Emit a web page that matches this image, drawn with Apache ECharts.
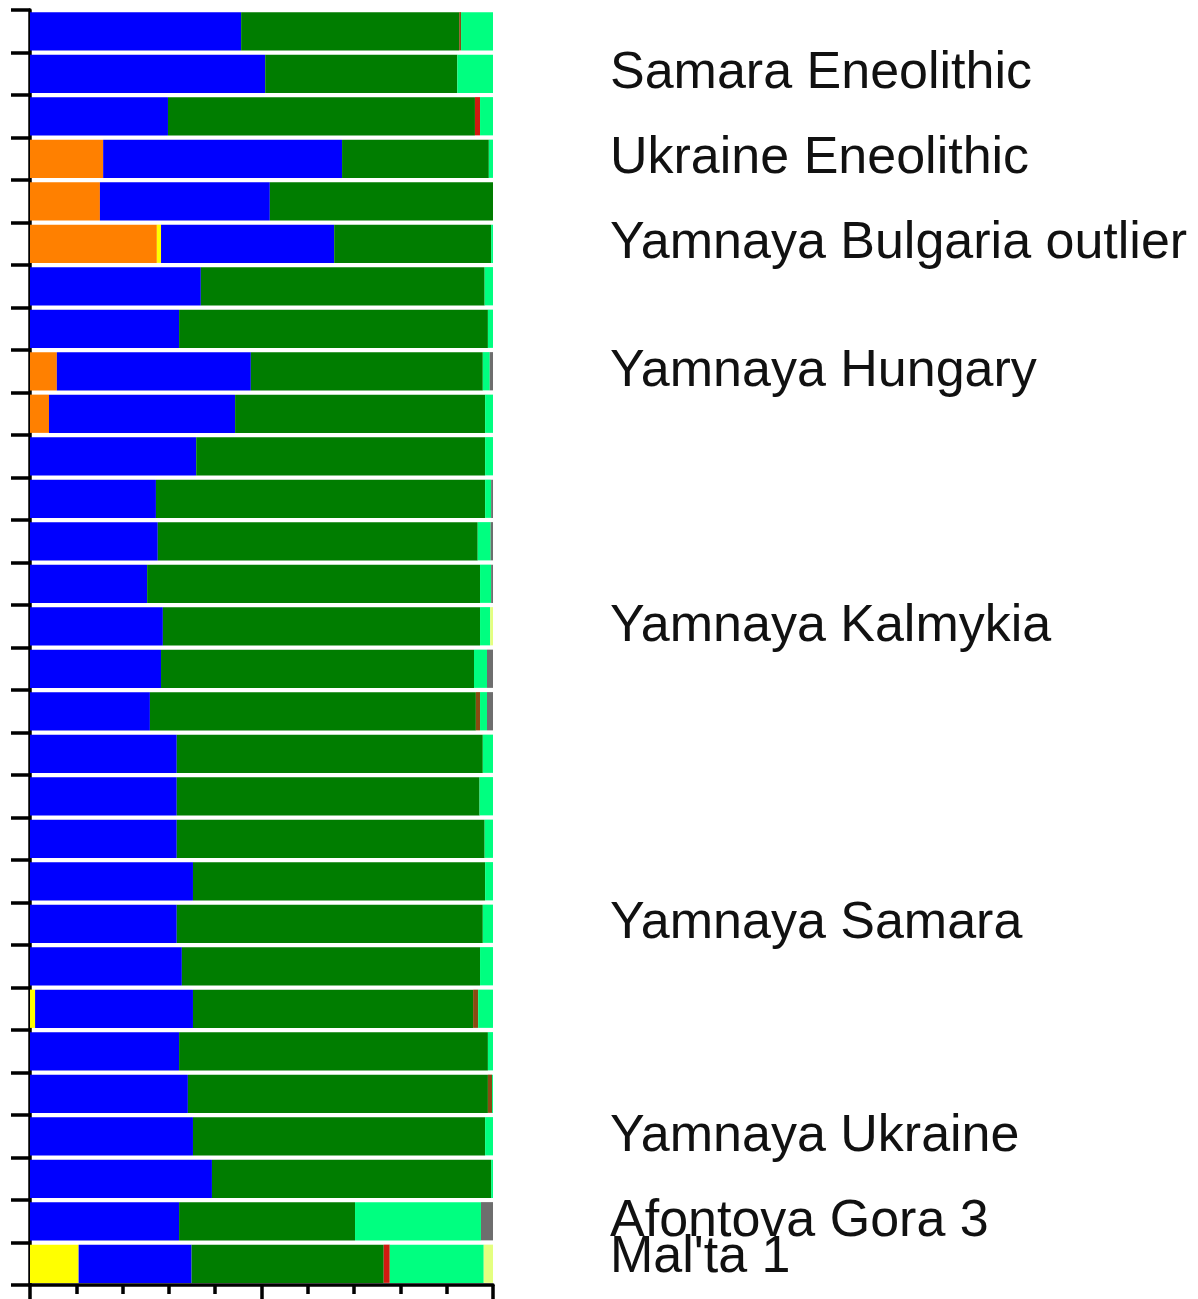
<!DOCTYPE html>
<html>
<head>
<meta charset="utf-8">
<script src="https://cdn.jsdelivr.net/npm/echarts@6/dist/echarts.min.js"></script>
<style>
  html, body { margin: 0; padding: 0; background: #fff; }
  #main { width: 1198px; height: 1299px; }
</style>
</head>
<body>
<div id="main"></div>
<script>
// samples, top to bottom
const samples = ['s1','s2','s3','s4','s5','s6','s7','s8','s9','s10','s11','s12','s13','s14','s15',
  's16','s17','s18','s19','s20','s21','s22','s23','s24','s25','s26','s27','s28','s29','s30'];
// group label shown on the right for some rows
const groupLabels = ['', 'Samara Eneolithic', '', 'Ukraine Eneolithic', '', 'Yamnaya Bulgaria outlier', '', '',
  'Yamnaya Hungary', '', '', '', '', '', 'Yamnaya Kalmykia', '', '', '', '', '', '',
  'Yamnaya Samara', '', '', '', '', 'Yamnaya Ukraine', '', 'Afontova Gora 3', "Mal'ta 1"];

// ancestry proportions per component
const orange = [0,0,0,.158,.151,.274,0,0,.058,.041,0,0,0,0,0,0,0,0,0,0,0,0,0,0,0,0,0,0,0,0];
const yellow = [0,0,0,0,0,.009,0,0,0,0,0,0,0,0,0,0,0,0,0,0,0,0,0,.011,0,0,0,0,0,.105];
const blue = [.456,.508,.298,.516,.367,.374,.369,.322,.419,.402,.359,.272,.276,.253,.287,
  .283,.259,.317,.317,.317,.352,.317,.328,.341,.322,.341,.352,.393,.322,.244];
const green = [.471,.415,.663,.317,.482,.339,.613,.667,.501,.540,.624,.711,.691,.719,.685,
  .676,.704,.661,.654,.665,.631,.661,.644,.605,.667,.648,.631,.603,.380,.415];
const red = [0,0,.011,0,0,0,0,0,0,0,0,0,0,0,0,0,0,0,0,0,0,0,0,0,0,0,0,0,0,.013];
const brown = [.004,0,0,0,0,0,0,0,0,0,0,0,0,0,0,0,.009,0,0,0,0,0,0,.011,0,.009,0,0,0,0];
const lightGreen = [.069,.077,.028,.009,0,.004,.018,.011,.015,.017,.017,.013,.028,.024,.022,
  .028,.015,.022,.029,.018,.017,.022,.028,.032,.011,.002,.017,.004,.272,.203];
const gray = [0,0,0,0,0,0,0,0,.007,0,0,.004,.005,.004,0,.013,.013,0,0,0,0,0,0,0,0,0,0,0,.026,0];
const paleYellow = [0,0,0,0,0,0,0,0,0,0,0,0,0,0,.006,0,0,0,0,0,0,0,0,0,0,0,0,0,0,.020];

const components = [
  { name: 'orange', data: orange, color: '#ff8000' },
  { name: 'yellow', data: yellow, color: '#ffff00' },
  { name: 'blue', data: blue, color: '#0000ff' },
  { name: 'green', data: green, color: '#007d00' },
  { name: 'red', data: red, color: '#d01a10' },
  { name: 'brown', data: brown, color: '#8a4a12' },
  { name: 'lightGreen', data: lightGreen, color: '#00ff80' },
  { name: 'gray', data: gray, color: '#6e6e6e' },
  { name: 'paleYellow', data: paleYellow, color: '#e4ff80' }
];

const chart = echarts.init(document.getElementById('main'));

const series = components.map(function (c) {
  return {
    name: c.name,
    type: 'bar',
    stack: 'all',
    barCategoryGap: '10%',
    data: c.data,
    itemStyle: { color: c.color },
    emphasis: { disabled: true }
  };
});

chart.setOption({
  animation: false,
  grid: { left: 30, right: 705, top: 10, bottom: 14, outerBoundsMode: 'none' },
  xAxis: {
    type: 'value',
    min: 0,
    max: 1,
    interval: 0.5,
    splitLine: { show: false },
    axisLine: { show: true, lineStyle: { color: '#000', width: 3.5 } },
    axisTick: { show: true, length: 16, lineStyle: { color: '#000', width: 3.5 } },
    minorTick: { show: true, splitNumber: 5, length: 9, lineStyle: { color: '#000', width: 3.5 } },
    axisLabel: { show: false }
  },
  yAxis: [
    {
      type: 'category',
      data: samples,
      inverse: true,
      axisLine: { show: true, lineStyle: { color: '#000', width: 3.5 } },
      axisTick: { show: true, length: 19, lineStyle: { color: '#000', width: 3.5 } },
      axisLabel: { show: false }
    },
    {
      type: 'category',
      data: samples,
      inverse: true,
      position: 'right',
      axisLine: { show: false },
      axisTick: { show: false },
      axisLabel: {
        interval: 0,
        margin: 117,
        align: 'left',
        color: '#111',
        fontFamily: 'Liberation Sans',
        fontSize: 52,
        formatter: function (v, i) {
          if (groupLabels[i] === "Mal'ta 1") return '{m|' + groupLabels[i] + '}';
          return groupLabels[i];
        },
        rich: {
          m: { fontFamily: 'Liberation Sans', fontSize: 52, color: '#111', padding: [0, 0, 12, 0] }
        }
      }
    }
  ],
  series: series
});
</script>
</body>
</html>
